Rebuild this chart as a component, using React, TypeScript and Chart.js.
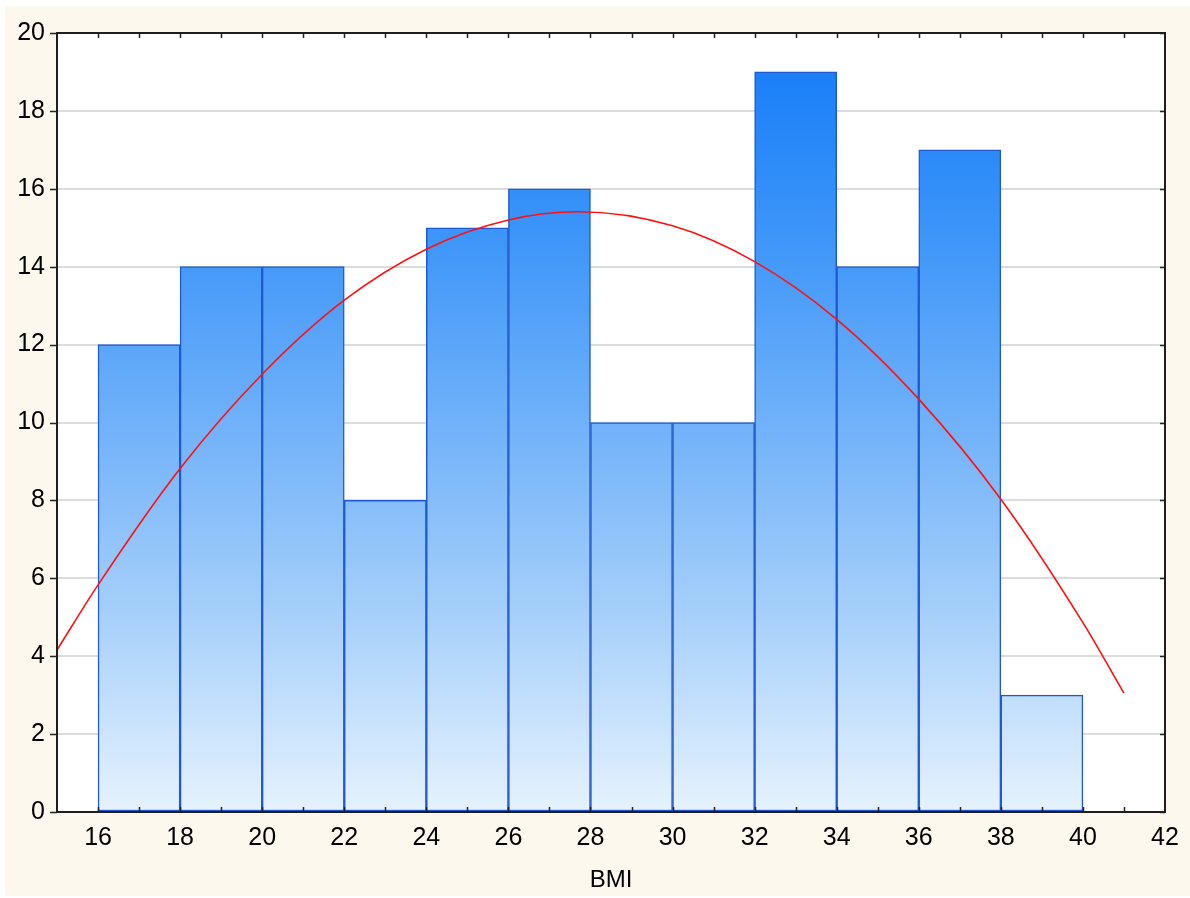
import React, { useEffect, useRef } from "react";
import { Chart, registerables } from "chart.js";

Chart.register(...registerables);

// Histogram bins (centres) and counts
const binCenters = [17, 19, 21, 23, 25, 27, 29, 31, 33, 35, 37, 39];
const binCounts = [12, 14, 14, 8, 15, 16, 10, 10, 19, 14, 17, 3];

// Fitted normal curve
const curveX = [15, 16, 18, 20, 22, 24, 26, 27.7, 30, 32, 34, 36, 38, 40, 41];
const curveY = [4.16, 5.83, 8.82, 11.24, 13.14, 14.45, 15.2, 15.41, 15.05, 14.13, 12.65, 10.6, 8.03, 4.86, 3.05];

const xTickLabels = [16, 18, 20, 22, 24, 26, 28, 30, 32, 34, 36, 38, 40, 42];
const yTickLabels = [0, 2, 4, 6, 8, 10, 12, 14, 16, 18, 20];
const xMinorTicks = [16, 17, 18, 19, 20, 21, 22, 23, 24, 25, 26, 27, 28, 29, 30, 31, 32, 33, 34, 35, 36, 37, 38, 39, 40, 41];

const FONT = "'Liberation Sans', Arial, sans-serif";

const framePlugin = {
  id: "frame",
  beforeDraw(chart: any) {
    const { ctx, chartArea: a, width, height } = chart;
    ctx.save();
    ctx.fillStyle = "#ffffff";
    ctx.fillRect(0, 0, width, height);
    ctx.fillStyle = "#fdf8ee";
    ctx.fillRect(5, 6, width - 5, height - 8);
    ctx.fillStyle = "#ffffff";
    ctx.fillRect(a.left, a.top, a.right - a.left, a.bottom - a.top);
    ctx.restore();
  },
  afterDraw(chart: any) {
    const { ctx, chartArea: a } = chart;
    const xs = chart.scales.x;
    const ys = chart.scales.y;
    ctx.save();
    ctx.strokeStyle = "#222222";
    ctx.lineWidth = 1.5;
    ctx.beginPath();
    for (const v of yTickLabels) {
      const y = Math.round(ys.getPixelForValue(v)) + 0.5;
      ctx.moveTo(a.left - 7, y);
      ctx.lineTo(a.left, y);
      ctx.moveTo(a.right - 5, y);
      ctx.lineTo(a.right, y);
    }
    for (const v of xMinorTicks) {
      const x = Math.round(xs.getPixelForValue(v)) + 0.5;
      ctx.moveTo(x, a.bottom);
      ctx.lineTo(x, a.bottom - 5);
      ctx.moveTo(x, a.top);
      ctx.lineTo(x, a.top + 5);
    }
    ctx.stroke();
    ctx.lineWidth = 2;
    ctx.strokeStyle = "#1e1e1e";
    ctx.strokeRect(a.left, a.top, a.right - a.left, a.bottom - a.top);
    ctx.restore();
  },
};

export default function App() {
  const ref = useRef<HTMLCanvasElement>(null);

  useEffect(() => {
    document.body.style.margin = "0";
    const canvas = ref.current!;
    const chart = new Chart(canvas, {
      type: "bar",
      data: {
        datasets: [
          {
            type: "line",
            data: curveX.map((x, i) => ({ x, y: curveY[i] })),
            borderColor: "#ff1010",
            borderWidth: 1.6,
            pointRadius: 0,
            cubicInterpolationMode: "monotone",
            fill: false,
            order: 0,
          } as any,
          {
            type: "bar",
            data: binCenters.map((x, i) => ({ x, y: binCounts[i] })),
            backgroundColor: (c: any) => {
              const area = c.chart.chartArea;
              if (!area) return "#6fb0f9";
              const g = c.chart.ctx.createLinearGradient(0, area.top, 0, area.bottom);
              g.addColorStop(0, "#127af8");
              g.addColorStop(0.25, "#3b94f8");
              g.addColorStop(0.5, "#70b1f9");
              g.addColorStop(0.75, "#a7d0fa");
              g.addColorStop(1, "#e6f2fd");
              return g;
            },
            borderColor: "#1f5ad2",
            borderWidth: 1.5,
            borderSkipped: false,
            barPercentage: 1,
            categoryPercentage: 1,
            order: 1,
          } as any,
        ],
      },
      options: {
        responsive: false,
        animation: false,
        layout: { padding: { left: 0, top: 33, right: 25, bottom: 0 } },
        plugins: {
          legend: { display: false },
          tooltip: { enabled: false },
        },
        scales: {
          x: {
            type: "linear",
            offset: false,
            min: 15,
            max: 42,
            grid: { display: false, drawTicks: false, offset: false },
            border: { display: false },
            afterBuildTicks: (s: any) => {
              s.ticks = xTickLabels.map((v) => ({ value: v }));
            },
            afterFit: (s: any) => {
              s.height = 86;
            },
            ticks: {
              padding: 11,
              maxRotation: 0,
              autoSkip: false,
              color: "#000",
              font: { family: FONT, size: 25 },
            },
            title: {
              display: true,
              text: "BMI",
              color: "#000",
              font: { family: FONT, size: 24 },
              padding: { top: 0, bottom: 3 },
            },
          },
          y: {
            type: "linear",
            min: 0,
            max: 20,
            afterBuildTicks: (s: any) => {
              s.ticks = yTickLabels.map((v) => ({ value: v }));
            },
            afterFit: (s: any) => {
              s.width = 57;
            },
            grid: {
              drawTicks: false,
              lineWidth: 2,
              color: (c: any) =>
                c.tick && (c.tick.value === 0 || c.tick.value === 20) ? "rgba(0,0,0,0)" : "#dcdcdc",
            },
            border: { display: false },
            ticks: {
              padding: 12,
              color: "#000",
              font: { family: FONT, size: 25 },
            },
          },
        },
      },
      plugins: [framePlugin],
    });
    return () => chart.destroy();
  }, []);

  return (
    <div style={{ position: "absolute", left: 0, top: 0, width: 1190, height: 898 }}>
      <canvas ref={ref} width={1190} height={898} style={{ display: "block" }} />
    </div>
  );
}
